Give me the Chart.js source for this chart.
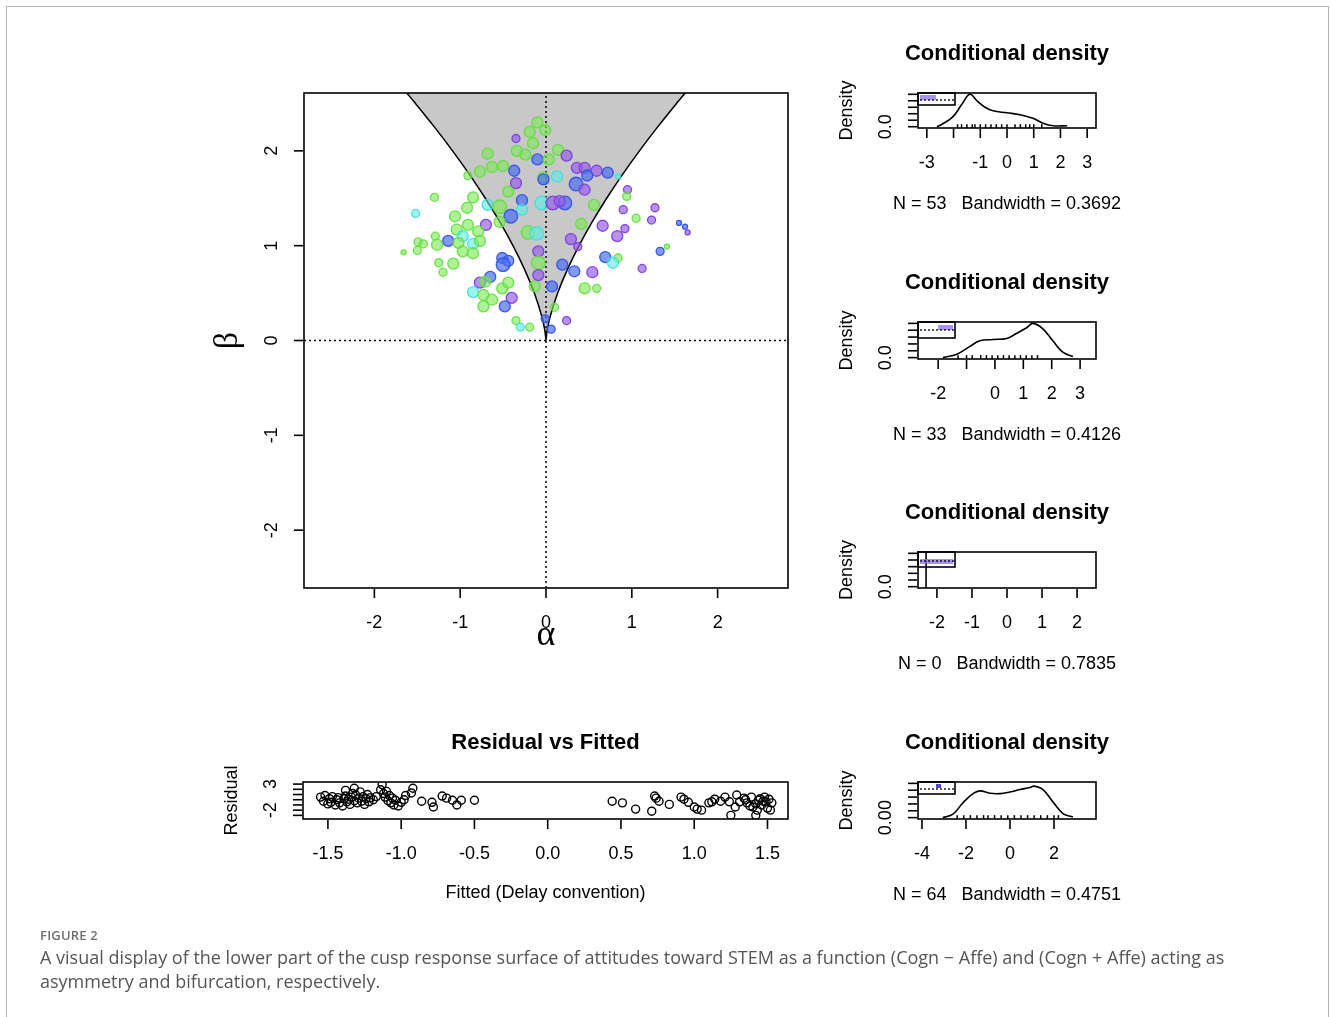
<!DOCTYPE html>
<html>
<head>
<meta charset="utf-8">
<script src="https://cdn.jsdelivr.net/npm/chart.js@4.4.0/dist/chart.umd.min.js"></script>
<style>
  body { margin: 0; background: #fff; }
  #page { position: relative; width: 1330px; height: 1017px; overflow: hidden; background: #fff; }
  #frame { position: absolute; left: 6px; top: 6px; width: 1321px; height: 1100px; border: 1px solid #b4b4b4; }
  #page canvas { position: absolute; left: 0; top: 0; pointer-events: none; }
  #figlabel { position: absolute; left: 40px; top: 926px; font: 600 13px "Open Sans", sans-serif; color: #707070; letter-spacing: 0.2px; }
  #caption { position: absolute; left: 40px; top: 945px; width: 1280px; font: 18px/24px "Open Sans", sans-serif; color: #555; }
</style>
</head>
<body>
<div id="page">
  <div id="frame"></div>
  <canvas id="cusp" width="1330" height="1017"></canvas>
  <canvas id="dens1" width="1330" height="1017"></canvas>
  <canvas id="dens2" width="1330" height="1017"></canvas>
  <canvas id="dens3" width="1330" height="1017"></canvas>
  <canvas id="dens4" width="1330" height="1017"></canvas>
  <canvas id="resid" width="1330" height="1017"></canvas>
  <div id="figlabel">FIGURE 2</div>
  <div id="caption">A visual display of the lower part of the cusp response surface of attitudes toward STEM as a function (Cogn − Affe) and (Cogn + Affe) acting as<br>asymmetry and bifurcation, respectively.</div>
</div>
<script>
// ---- data ----

// cusp plot: alpha (asymmetry), beta (bifurcation), colour group, size class
const alphaVals = [-0.10,-0.19,-0.01,-0.35,-0.15,-0.34,-0.24,-0.68,-0.10,-0.50,-0.63,-0.77,-0.37,-0.91,-0.35,-0.03,-0.44,-1.30,-0.85,-0.28,
  -0.05,-0.68,-0.54,-0.92,-0.28,-1.52,-0.41,-1.06,-0.70,-0.54,-0.91,-1.04,-0.97,-0.79,-0.21,-0.11,-1.29,-1.14,-1.49,-1.43,
  -1.27,-1.02,-0.85,-0.77,-1.50,-1.66,-0.97,-1.08,-1.25,-0.85,-0.51,-0.44,-0.50,-0.09,-0.09,-0.09,-1.20,-0.65,-0.77,-0.71,
  -0.51,-0.44,-0.85,-0.73,-0.40,-0.63,-0.73,-0.48,-0.13,-0.35,-0.30,-0.19,-0.01,
  0.14,0.24,0.03,0.36,0.45,0.59,0.72,0.48,0.84,-0.03,0.13,0.35,0.45,0.95,0.94,0.08,0.22,0.16,0.56,0.90,1.27,
  1.05,1.23,1.55,1.62,1.65,0.66,0.92,0.83,0.41,0.29,0.37,1.33,1.41,0.69,0.84,0.78,0.19,1.12,0.54,0.33,0.45,
  0.59,0.07,0.10,0.24,0.06];
const betaVals = [2.30,2.20,2.22,2.13,2.08,2.00,1.96,1.97,1.91,1.84,1.83,1.78,1.79,1.74,1.66,1.72,1.57,1.51,1.51,1.48,
  1.45,1.43,1.41,1.40,1.38,1.34,1.31,1.31,1.22,1.25,1.22,1.17,1.10,1.15,1.14,1.13,1.10,1.05,1.04,1.02,
  1.01,1.03,1.02,1.05,0.95,0.93,0.94,0.81,0.82,0.92,0.87,0.84,0.80,0.94,0.82,0.69,0.72,0.67,0.61,0.62,
  0.55,0.61,0.51,0.48,0.45,0.43,0.36,0.36,0.57,0.21,0.14,0.14,0.23,
  2.01,1.95,1.91,1.82,1.82,1.79,1.77,1.74,1.73,1.70,1.73,1.65,1.59,1.59,1.52,1.45,1.45,1.47,1.43,1.38,1.40,
  1.29,1.27,1.24,1.20,1.14,1.21,1.18,1.10,1.23,1.07,0.99,0.94,0.99,0.88,0.87,0.82,0.80,0.76,0.72,0.73,0.55,
  0.55,0.57,0.35,0.21,0.12];
const groupVals = ['g','g','g','p','g','g','g','g','b','g','g','g','b','g','p','g','g','g','g','b',
  'c','c','g','g','c','c','b','g','p','g','g','g','c','g','g','c','g','b','g','g',
  'g','g','c','g','g','g','g','g','g','g','b','b','b','p','g','p','g','b','p','g',
  'g','g','c','g','p','g','g','b','g','g','c','g','b',
  'g','p','g','p','p','p','b','b','c','b','c','b','p','p','g','p','b','p','g','p','p',
  'g','p','b','b','p','p','p','p','g','p','p','b','g','b','g','c','b','p','p','b','g',
  'g','b','g','p','b'];
const sizeVals = [3,3,3,2,3,3,3,3,3,3,3,3,3,2,3,3,3,2,3,3,
  4,3,4,3,3,2,4,3,3,3,3,3,3,3,4,4,2,3,2,2,
  3,3,3,3,2,1,3,3,2,3,3,3,4,3,4,3,2,3,3,3,
  3,3,3,3,3,3,3,3,3,2,2,2,2,
  3,3,3,3,3,3,3,3,1,3,3,4,3,2,2,4,4,3,3,2,2,
  2,2,1,1,1,3,2,3,3,3,2,2,1,3,2,3,3,2,3,3,3,
  2,3,2,2,2];

// cusp bifurcation boundary (beta, |alpha|)
const cuspBeta  = [2.61, 2.5, 2.25, 2.0, 1.75, 1.5, 1.25, 1.0, 0.75, 0.5, 0.25, 0.1, 0];
const cuspAlpha = [1.623, 1.521, 1.299, 1.089, 0.891, 0.707, 0.538, 0.385, 0.25, 0.136, 0.048, 0.012, 0];

const cuspXTicks = [-2, -1, 0, 1, 2];
const cuspYTicks = [-2, -1, 0, 1, 2];

// conditional densities (x, relative density)
const dens1X = [-2.62,-2.40,-2.02,-1.69,-1.39,-1.12,-0.82,-0.52,0.00,0.49,0.97,1.35,1.72,2.25];
const dens1Y = [0.00,0.09,0.31,0.69,1.00,0.80,0.60,0.49,0.43,0.37,0.26,0.11,0.03,0.03];
const dens1Rug = [-1.85,-1.7,-1.5,-1.3,-1.2,-1.0,-0.8,-0.6,-0.4,-0.2,0.0,0.3,0.5,0.7,0.85,1.0,1.3];
const dens1Ticks = [-3, -2, -1, 0, 1, 2, 3];
const dens1Labels = ['-3', '', '-1', '0', '1', '2', '3'];

const dens2X = [-1.83,-1.34,-0.88,-0.53,-0.07,0.42,0.77,1.13,1.34,1.69,2.04,2.39,2.75];
const dens2Y = [0.00,0.10,0.33,0.49,0.53,0.56,0.71,0.88,1.00,0.84,0.49,0.16,0.03];
const dens2Rug = [-1.3,-1.0,-0.8,-0.5,-0.3,-0.1,0.1,0.3,0.5,0.7,0.9,1.1,1.3,1.5];
const dens2Ticks = [-2, -1, 0, 1, 2, 3];
const dens2Labels = ['-2', '', '0', '1', '2', '3'];

const dens3LineX = -2.31;
const dens3Ticks = [-2, -1, 0, 1, 2];
const dens3Labels = ['-2', '-1', '0', '1', '2'];

const dens4X = [-3.05,-2.59,-2.14,-1.68,-1.36,-0.91,-0.45,0.00,0.45,0.91,1.09,1.50,1.95,2.41,2.86];
const dens4Y = [0.00,0.10,0.43,0.70,0.78,0.71,0.70,0.75,0.82,0.88,0.92,0.82,0.46,0.12,0.02];
const dens4Rug = [-2.4,-2.1,-1.8,-1.5,-1.2,-1.0,-0.7,-0.4,-0.1,0.2,0.5,0.8,1.1,1.4,1.7,2.0,2.2];
const dens4Ticks = [-4, -2, 0, 2];
const dens4Labels = ['-4', '-2', '0', '2'];

const densYTicks = [0, 0.2, 0.4, 0.6, 0.8, 1.0];

// residual vs fitted
const fittedVals = [-1.55,-1.53,-1.52,-1.50,-1.49,-1.48,-1.47,-1.45,-1.44,-1.43,-1.42,-1.40,-1.39,-1.38,-1.37,-1.36,-1.35,-1.34,-1.33,-1.32,
  -1.31,-1.30,-1.29,-1.28,-1.27,-1.26,-1.25,-1.24,-1.23,-1.22,-1.21,-1.19,-1.17,-1.32,-1.38,
  -1.13,-1.14,-1.12,-1.11,-1.10,-1.09,-1.08,-1.07,-1.06,-1.05,-1.04,-1.02,-1.00,-0.98,-0.97,
  -0.92,-0.93,-0.86,-0.79,-0.78,-0.72,-0.69,-0.65,-0.62,-0.59,-0.50,
  0.44,0.51,0.60,0.71,0.73,0.74,0.76,0.83,0.91,0.93,0.96,1.00,1.02,1.05,1.10,1.12,1.14,1.18,1.21,1.24,
  1.25,1.28,1.29,1.31,1.34,1.36,1.39,1.40,1.42,1.44,1.46,1.48,1.49,1.50,1.51,1.52,1.53,1.42,1.45,1.38,1.47,1.35,1.43];
const residVals = [0.5,-0.3,0.8,-0.8,0.2,-0.5,0.6,-1.0,0.0,0.4,-0.6,-1.2,0.2,0.7,-0.4,0.1,-0.9,0.5,1.2,-0.2,
  0.9,-0.6,0.3,1.5,-0.3,0.6,-0.9,0.2,1.0,-0.4,0.4,0.0,0.6,2.2,1.8,
  2.9,1.9,1.2,0.5,1.6,-0.2,0.8,-0.6,0.3,-1.0,-0.1,-1.2,-0.5,0.0,0.8,
  2.2,1.3,-0.3,-0.5,-1.4,0.7,0.3,-0.1,-1.0,-0.1,-0.1,
  -0.3,-0.6,-1.8,-2.2,0.7,0.3,-0.3,-0.9,0.5,0.1,-0.5,-1.4,-1.8,-2.0,-0.6,-0.4,0.1,-0.3,0.5,-0.4,
  -3.0,-1.4,0.9,-0.4,0.3,-0.6,0.5,-1.4,-3.0,-0.1,-1.0,0.5,-0.4,-1.6,0.1,-2.0,-0.6,-0.8,0.2,-1.2,-0.3,0.0,-2.0];
const residXTicks = [-1.5, -1.0, -0.5, 0.0, 0.5, 1.0, 1.5];
const residXLabels = ['-1.5', '-1.0', '-0.5', '0.0', '0.5', '1.0', '1.5'];
const residYTicks = [-3, -2, -1, 0, 1, 2, 3];
const residYLabels = ['', '-2', '', '', '', '', '3'];

// ---- drawing ----
const W = 1330, H = 1017;
const SANS = '"Liberation Sans", Arial, sans-serif';

const palette = {
  g: ['rgba(125,232,85,0.62)', 'rgba(95,222,60,0.9)'],
  c: ['rgba(95,235,228,0.62)', 'rgba(60,222,222,0.9)'],
  b: ['rgba(75,110,238,0.7)', 'rgba(50,80,232,0.95)'],
  p: ['rgba(152,95,232,0.68)', 'rgba(122,62,222,0.95)']
};
const radiusFor = { 1: 2.5, 2: 4, 3: 5.5, 4: 6.8 };

function framePlugin(f) {
  return {
    id: 'rframe',
    afterDraw(chart) {
      const ctx = chart.ctx, a = chart.chartArea;
      const x = chart.scales.x, y = chart.scales.y;
      ctx.save();
      ctx.strokeStyle = '#000';
      ctx.fillStyle = '#000';
      ctx.lineWidth = 1.6;

      // legend box (density plots)
      if (f.legend) {
        const L = f.legend;
        ctx.fillStyle = L.color;
        ctx.fillRect(a.left + L.fill[0], a.top + L.fill[1], L.fill[2], L.fill[3]);
        ctx.lineWidth = 1.3;
        ctx.setLineDash([2, 2]);
        ctx.beginPath();
        ctx.moveTo(a.left + 2, a.top + L.dash); ctx.lineTo(a.left + 36, a.top + L.dash);
        ctx.stroke();
        ctx.setLineDash([]);
        ctx.lineWidth = 1.6;
        ctx.strokeRect(a.left, a.top, 37, L.h);
        ctx.fillStyle = '#000';
      }

      ctx.strokeRect(a.left, a.top, a.right - a.left, a.bottom - a.top);

      ctx.font = '18px ' + SANS;
      ctx.textAlign = 'center';
      ctx.textBaseline = 'middle';
      f.xTicks.forEach((v, i) => {
        const px = x.getPixelForValue(v);
        ctx.beginPath(); ctx.moveTo(px, a.bottom + 1); ctx.lineTo(px, a.bottom + 10); ctx.stroke();
        if (f.xLabels[i]) ctx.fillText(f.xLabels[i], px, a.bottom + 35);
      });
      f.yTicks.forEach((v, i) => {
        const py = y.getPixelForValue(v);
        ctx.beginPath(); ctx.moveTo(a.left - 10, py); ctx.lineTo(a.left - 1, py); ctx.stroke();
        if (f.yLabels[i]) {
          ctx.save(); ctx.translate(a.left - 32, py); ctx.rotate(-Math.PI / 2);
          ctx.fillText(f.yLabels[i], 0, 0); ctx.restore();
        }
      });

      const cx = (a.left + a.right) / 2, cy = (a.top + a.bottom) / 2;
      if (f.title) {
        ctx.font = 'bold 22px ' + SANS;
        ctx.fillText(f.title, cx, a.top - 39);
      }
      if (f.xTitle) {
        ctx.font = f.xTitleFont;
        ctx.fillText(f.xTitle, cx, a.bottom + f.xTitleOff);
      }
      if (f.yTitle) {
        ctx.font = f.yTitleFont;
        ctx.save(); ctx.translate(a.left - f.yTitleOff, cy); ctx.rotate(-Math.PI / 2);
        ctx.fillText(f.yTitle, 0, 0); ctx.restore();
      }
      ctx.restore();
    }
  };
}

function makeChart(id, box, xr, yr, datasets, frame) {
  return new Chart(document.getElementById(id), {
    type: 'line',
    data: { datasets: datasets },
    options: {
      responsive: false,
      animation: false,
      layout: { padding: { left: box[0], top: box[1], right: W - box[2], bottom: H - box[3] } },
      plugins: { legend: { display: false }, tooltip: { enabled: false } },
      scales: {
        x: { type: 'linear', display: false, min: xr[0], max: xr[1] },
        y: { type: 'linear', display: false, min: yr[0], max: yr[1] }
      }
    },
    plugins: [framePlugin(frame)]
  });
}

function pts(xs, ys) { return xs.map((v, i) => ({ x: v, y: ys[i] })); }

// main cusp plot
const cuspX = [-2.82, 2.82], cuspY = [-2.61, 2.61];
const cuspEdge = cuspBeta.map((b, i) => ({ x: -cuspAlpha[i], y: b }))
  .concat(cuspBeta.slice(0, -1).reverse().map((b, i) => ({ x: cuspAlpha[cuspBeta.length - 2 - i], y: b })));

makeChart('cusp', [304, 93, 788, 588], cuspX, cuspY, [
  {
    type: 'scatter',
    data: pts(alphaVals, betaVals),
    pointRadius: sizeVals.map(s => radiusFor[s]),
    pointBackgroundColor: groupVals.map(g => palette[g][0]),
    pointBorderColor: groupVals.map(g => palette[g][1]),
    pointBorderWidth: 1.3,
    showLine: false
  },
  {
    data: [{ x: 0, y: cuspY[0] }, { x: 0, y: cuspY[1] }],
    borderColor: '#000', borderWidth: 1.5, borderDash: [2, 3], pointRadius: 0, fill: false
  },
  {
    data: [{ x: cuspX[0], y: 0 }, { x: cuspX[1], y: 0 }],
    borderColor: '#000', borderWidth: 1.5, borderDash: [2, 3], pointRadius: 0, fill: false
  },
  {
    data: cuspEdge,
    borderColor: '#000', borderWidth: 1.5, pointRadius: 0,
    backgroundColor: '#c8c8c8', fill: 'end', tension: 0.2
  }
], {
  xTicks: cuspXTicks, xLabels: cuspXTicks.map(String),
  yTicks: cuspYTicks, yLabels: cuspYTicks.map(String),
  xTitle: 'α', xTitleOff: 48, xTitleFont: '36px "Liberation Serif", serif',
  yTitle: 'β', yTitleOff: 76, yTitleFont: '34px "Liberation Serif", serif'
});

// conditional densities
const densY = [-0.04, 1.04];
function densCurve(xs, ys) {
  return { data: pts(xs, ys), borderColor: '#000', borderWidth: 1.6, pointRadius: 0, tension: 0.4, fill: false };
}
function densRug(xs) {
  return {
    type: 'scatter', data: xs.map(v => ({ x: v, y: 0 })), showLine: false,
    pointStyle: 'line', rotation: 90, pointRadius: 2.5, pointBorderColor: '#000', pointBorderWidth: 1.5
  };
}
function densFrame(ticks, labels, yLab, note, legend) {
  return {
    xTicks: ticks, xLabels: labels, yTicks: densYTicks, yLabels: [yLab, '', '', '', '', ''],
    title: 'Conditional density',
    xTitle: note, xTitleOff: 76, xTitleFont: '18px ' + SANS,
    yTitle: 'Density', yTitleOff: 71, yTitleFont: '18px ' + SANS,
    legend: legend
  };
}

makeChart('dens1', [918, 93, 1096, 128], [-3.33, 3.33], densY,
  [densCurve(dens1X, dens1Y), densRug(dens1Rug)],
  densFrame(dens1Ticks, dens1Labels, '0.0', 'N = 53   Bandwidth = 0.3692',
    { h: 12, fill: [2, 2, 16, 5], dash: 7, color: 'rgba(140,110,240,0.75)' }));

makeChart('dens2', [918, 322, 1096, 359], [-2.71, 3.56], densY,
  [densCurve(dens2X, dens2Y), densRug(dens2Rug)],
  densFrame(dens2Ticks, dens2Labels, '0.0', 'N = 33   Bandwidth = 0.4126',
    { h: 16, fill: [20, 3, 15, 5], dash: 8, color: 'rgba(140,110,240,0.75)' }));

makeChart('dens3', [918, 552, 1096, 588], [-2.54, 2.54], densY,
  [{ data: [{ x: dens3LineX, y: densY[0] }, { x: dens3LineX, y: densY[1] }], borderColor: '#000', borderWidth: 1.6, pointRadius: 0, fill: false }],
  densFrame(dens3Ticks, dens3Labels, '0.0', 'N = 0   Bandwidth = 0.7835',
    { h: 15, fill: [2, 7, 33, 5], dash: 9, color: 'rgba(140,110,240,0.75)' }));

makeChart('dens4', [918, 782, 1096, 819], [-4.18, 3.91], densY,
  [densCurve(dens4X, dens4Y), densRug(dens4Rug)],
  densFrame(dens4Ticks, dens4Labels, '0.00', 'N = 64   Bandwidth = 0.4751',
    { h: 12, fill: [18, 2, 5, 4], dash: 7, color: 'rgba(60,50,220,0.9)' }));

// residual vs fitted
makeChart('resid', [303, 782, 788, 819], [-1.67, 1.64], [-3.7, 3.4], [
  {
    type: 'scatter', data: pts(fittedVals, residVals), showLine: false,
    pointRadius: 4, pointBackgroundColor: 'rgba(0,0,0,0)', pointBorderColor: '#000', pointBorderWidth: 1.4
  }
], {
  xTicks: residXTicks, xLabels: residXLabels,
  yTicks: residYTicks, yLabels: residYLabels,
  title: 'Residual vs Fitted',
  xTitle: 'Fitted (Delay convention)', xTitleOff: 74, xTitleFont: '18px ' + SANS,
  yTitle: 'Residual', yTitleOff: 71, yTitleFont: '18px ' + SANS
});
</script>
</body>
</html>
